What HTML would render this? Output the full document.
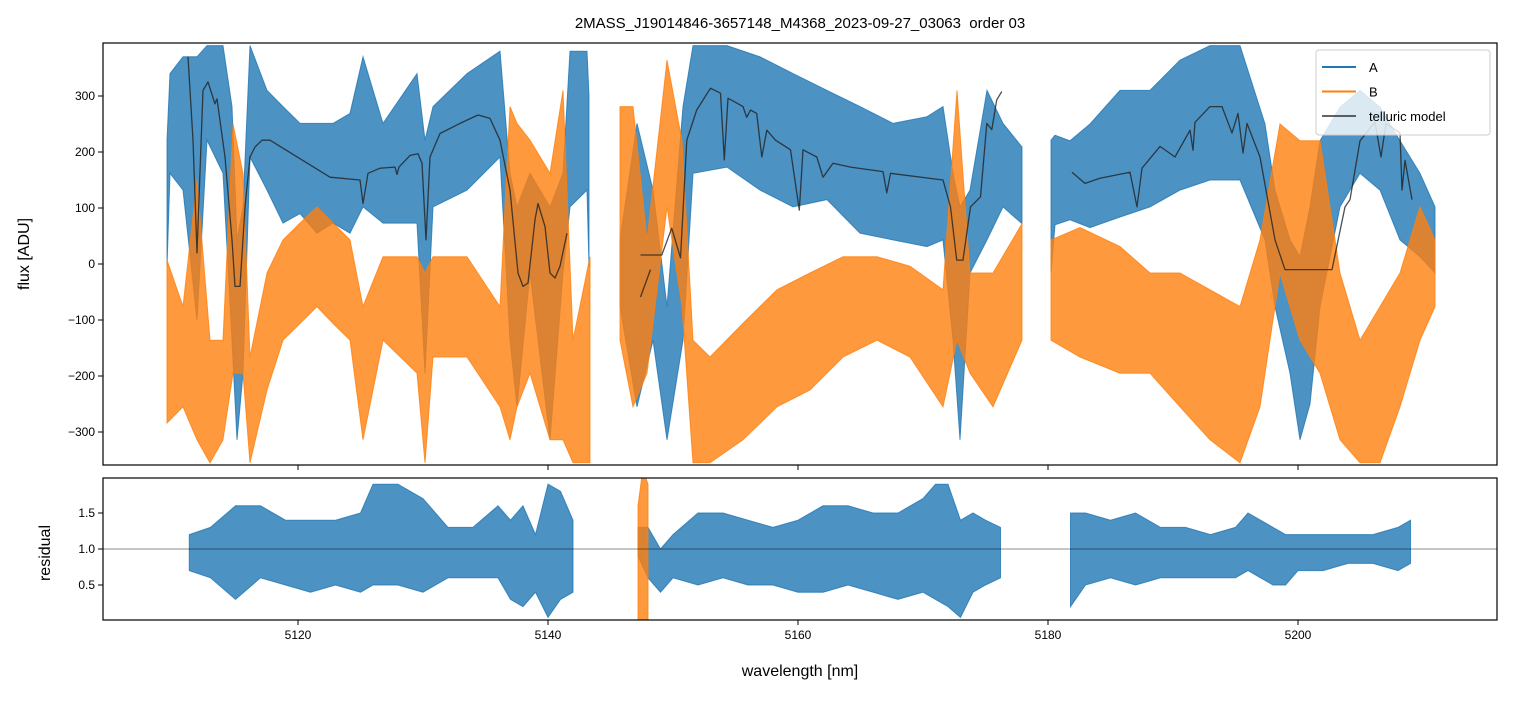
<!DOCTYPE html>
<html><head><meta charset="utf-8"><style>
html,body{margin:0;padding:0;background:#fff;}
svg text{font-family:"Liberation Sans","DejaVu Sans",sans-serif;fill:#000;}
</style></head><body>
<svg id="chart" width="1513" height="696" xmlns="http://www.w3.org/2000/svg">
<text x="800" y="28" font-size="15" text-anchor="middle" style="white-space:pre">2MASS_J19014846-3657148_M4368_2023-09-27_03063  order 03</text>
<g id="topPanel"></g>
<g id="botPanel"></g>
</svg>
<script>
// ---- data (wavelength nm, band lower/upper) ; null = gap ----
const aWl=[5109.52,5109.76,5110.8,5111.92,5112.72,5114,5114.72,5115.12,5115.6,5116.16,5117.52,5118.8,5120.16,5121.52,5122.8,5124.16,5125.2,5126.8,5129.52,5130.16,5130.8,5133.52,5136.16,5136.96,5137.52,5138.56,5140.16,5141.2,5141.76,5143.12,5143.28,null,5145.76,5147.12,5148.4,5149.52,5150.8,5151.6,5154.32,5156.96,5159.6,5162.32,5164.96,5167.6,5170.32,5171.6,5172.4,5172.96,5173.76,5175.12,5176.4,5177.92,null,5180.24,5180.56,5181.76,5183.36,5185.76,5188.16,5190.56,5192.96,5195.36,5197.36,5198.16,5199.36,5200.16,5200.96,5201.76,5203.36,5204.96,5206.56,5208.16,5209.76,5210.96];
const aLo=[-5,162,132,-100,221,162,-136,-314,-195,191,132,73,90,55,73,55,102,73,73,-195,102,132,191,-136,-255,-16,-314,-16,102,132,-4,null,-76,-255,-136,-314,-136,162,173,132,102,115,55,43,31,43,-136,-314,-16,43,102,72,null,-16,70,79,65,84,102,132,150,150,43,-76,-195,-314,-250,-76,102,162,132,43,13,-16];
const aHi=[221,340,370,370,390,390,281,43,102,390,310,281,251,251,251,269,370,251,340,221,281,340,380,162,102,162,102,162,380,380,300,null,43,251,132,-76,281,390,390,370,340,310,281,251,263,281,162,102,132,310,251,209,null,221,230,220,250,310,310,364,390,390,250,132,43,13,102,220,280,310,280,220,162,102];
const bWl=[5109.52,5110.8,5111.92,5112.96,5114,5114.8,5115.6,5116.16,5117.52,5118.8,5120.16,5121.52,5122.8,5124.16,5125.2,5126.8,5129.52,5130.16,5130.8,5133.52,5136.16,5136.96,5137.52,5138.56,5140.16,5141.2,5142,5143.36,null,5145.76,5146.8,5147.92,5149.52,5150.72,5151.6,5152.96,5155.6,5158.32,5160.96,5163.6,5166.32,5168.96,5171.6,5172.72,5173.76,5175.6,5177.92,null,5180.24,5182.56,5185.76,5188.16,5190.56,5192.96,5195.36,5196.96,5198.56,5200.16,5201.76,5203.36,5204.96,5206.56,5208.16,5209.76,5210.96];
const bLo=[-284,-255,-314,-355,-314,-195,-195,-355,-225,-136,-106,-76,-106,-136,-314,-136,-195,-355,-166,-166,-255,-314,-255,-195,-314,-314,-355,-355,null,-136,-255,-195,102,-76,-355,-355,-314,-255,-225,-166,-136,-166,-255,-136,-195,-255,-136,null,-136,-166,-195,-195,-255,-314,-355,-255,-16,-136,-195,-314,-355,-355,-255,-136,-76];
const bHi=[7,-76,150,-136,-136,250,162,-166,-16,43,73,102,73,43,-76,13,13,-16,13,13,-76,281,251,221,162,310,-136,13,null,281,281,43,364,220,-136,-166,-106,-46,-16,13,13,-4,-46,310,-16,-16,72,null,43,65,31,-16,-16,-46,-76,43,250,220,220,-16,-136,-76,-16,102,43];
const tWl=[5111.2,5111.6,5111.92,5112.4,5112.8,5113.2,5113.36,5113.52,5114.16,5114.72,5114.96,5115.36,5115.76,5116.16,5116.56,5117.12,5117.76,5122.56,5124.96,5125.2,5125.6,5126.56,5127.76,5127.92,5128.08,5128.96,5129.6,5129.92,5130.24,5130.56,5131.36,5132.96,5134.4,5135.36,5136.16,5136.96,5137.6,5138,5138.4,5138.96,5139.2,5139.76,5140.16,5140.56,5140.96,5141.52,null,5147.4,5148.2,null,5147.4,5149.1,5149.9,5150.6,5151.1,5151.9,5153,5153.8,5154.1,5154.4,5155.6,5155.9,5156.2,5156.7,5157.1,5157.5,5158.2,5159.4,5160.1,5160.4,5161.5,5162,5162.8,5164.2,5166.8,5167.1,5167.4,5171.6,5172.2,5172.7,5173.2,5173.8,5174.6,5175.1,5175.5,5175.9,5176.3,null,5181.92,5182.96,5184.16,5186.56,5187.12,5187.52,5188.96,5190.16,5191.36,5191.6,5191.76,5192.96,5193.92,5194.72,5195.2,5195.6,5195.92,5196.96,5198.16,5198.96,5202.72,5203.76,5204.16,5204.96,5206.16,5206.64,5207.04,5208.16,5208.32,5208.56,5209.12];
const tVal=[370,221,20,310,325,297,286,295,191,43,-40,-40,102,191,209,221,221,155,150,108,162,171,173,160,173,194,197,180,43,191,233,251,266,260,221,132,-16,-40,-34,79,108,67,-16,-25,-4,55,null,-59,-10,null,16,16,64,11,221,275,314,305,186,296,281,262,275,269,191,239,221,204,96,204,191,155,180,173,165,127,162,150,102,7,7,102,120,251,240,293,308,null,164,144,153,164,102,171,210,191,239,203,253,281,281,234,269,198,251,191,43,-10,-10,102,115,220,253,191,251,234,132,185,115];
const rAWl=[5111.3,5113,5115,5117,5119,5121,5123,5125,5126,5128,5130,5132,5134,5136,5137,5138,5139,5140,5141,5142,null,5147.2,5148,5149,5150,5152,5154,5156,5158,5160,5162,5164,5166,5168,5170,5171,5172,5173,5174,5175,5176.2,null,5181.8,5183,5185,5187,5189,5191,5193,5195,5196,5197,5198,5199,5200,5202,5204,5206,5208,5209];
const rALo=[0.7,0.6,0.3,0.6,0.5,0.4,0.5,0.4,0.5,0.5,0.4,0.6,0.6,0.6,0.3,0.2,0.4,0.05,0.3,0.4,null,0.9,0.6,0.4,0.6,0.5,0.6,0.5,0.5,0.4,0.4,0.5,0.4,0.3,0.4,0.3,0.2,0.05,0.4,0.5,0.6,null,0.2,0.5,0.6,0.5,0.6,0.6,0.6,0.6,0.7,0.6,0.5,0.5,0.7,0.7,0.8,0.8,0.7,0.8];
const rAHi=[1.2,1.3,1.6,1.6,1.4,1.4,1.4,1.5,1.9,1.9,1.7,1.3,1.3,1.6,1.4,1.6,1.2,1.9,1.8,1.4,null,1.3,1.3,1.0,1.2,1.5,1.5,1.4,1.3,1.4,1.6,1.6,1.5,1.5,1.7,1.9,1.9,1.4,1.5,1.4,1.3,null,1.5,1.5,1.4,1.5,1.3,1.3,1.2,1.3,1.5,1.4,1.3,1.2,1.2,1.2,1.2,1.2,1.3,1.4];
const rBWl=[5147.2,5147.5,5147.8,5148];
const rBLo=[0.0,0.0,0.0,0.0];
const rBHi=[1.6,2.0,2.0,1.9];
const xTicks=[5120,5140,5160,5180,5200];
const yTicksTop=[-300,-200,-100,0,100,200,300];
const yTicksBot=[0.5,1.0,1.5];

const NS="http://www.w3.org/2000/svg";
const L=103,R=1497,T1=43,B1=465,T2=478,B2=620;
const xMin=5104.4,xMax=5215.92;
const X=v=>L+(v-xMin)/(xMax-xMin)*(R-L);
const Y1=v=>264-v*0.56;
const Y2=v=>549-(v-1)*72;
function mk(tag,attrs,parent){const e=document.createElementNS(NS,tag);for(const k in attrs)e.setAttribute(k,attrs[k]);parent.appendChild(e);return e;}
const svgEl=document.getElementById('chart');
const defs=mk('defs',{},svgEl);
const c1=mk('clipPath',{id:'c1'},defs);mk('rect',{x:L,y:T1,width:R-L,height:B1-T1},c1);
const c2=mk('clipPath',{id:'c2'},defs);mk('rect',{x:L,y:T2,width:R-L,height:B2-T2},c2);
const topG=document.getElementById('topPanel'),botG=document.getElementById('botPanel');
const g1=mk('g',{'clip-path':'url(#c1)'},topG);
const g2=mk('g',{'clip-path':'url(#c2)'},botG);
function band(wl,lo,hi,Y,color,parent,name){
  let seg=[];const segs=[];
  for(let i=0;i<=wl.length;i++){if(i===wl.length||wl[i]===null){if(seg.length)segs.push(seg);seg=[];}else seg.push(i);}
  segs.forEach(s=>{
    let d='M'+s.map(i=>X(wl[i]).toFixed(1)+','+Y(hi[i]).toFixed(1)).join('L');
    d+='L'+s.slice().reverse().map(i=>X(wl[i]).toFixed(1)+','+Y(lo[i]).toFixed(1)).join('L')+'Z';
    const p=mk('path',{d:d,fill:color,'fill-opacity':0.8,stroke:color,'stroke-opacity':0.8,'stroke-width':1},parent);
    
    
  });
}
function line(wl,v,Y,color,w,op,parent,name){
  let d='',pen=false;
  for(let i=0;i<wl.length;i++){if(wl[i]===null){pen=false;continue;}d+=(pen?'L':'M')+X(wl[i]).toFixed(1)+','+Y(v[i]).toFixed(1);pen=true;}
  const p=mk('path',{d:d,fill:'none',stroke:color,'stroke-width':w,'stroke-opacity':op,'stroke-linejoin':'round'},parent);
  
  
}
band(aWl,aLo,aHi,Y1,'#1f77b4',g1,'series-a-band');
band(bWl,bLo,bHi,Y1,'#ff7f0e',g1,'series-b-band');
line(tWl,tVal,Y1,'#222',1.3,0.8,g1,'telluric-model-line');
band(rAWl,rALo,rAHi,Y2,'#1f77b4',g2,'residual-a-band');
band(rBWl,rBLo,rBHi,Y2,'#ff7f0e',g2,'residual-b-band');
const ref=mk('line',{x1:L,x2:R,y1:Y2(1),y2:Y2(1),stroke:'#000','stroke-width':0.8,'stroke-opacity':0.6},g2);


[[T1,B1,topG],[T2,B2,botG]].forEach(([t,b,p])=>{const r=mk('rect',{x:L,y:t,width:R-L,height:b-t,fill:'none',stroke:'#000','stroke-width':1.2},p);});
xTicks.forEach(v=>{
  mk('line',{x1:X(v),x2:X(v),y1:B1,y2:B1+5,stroke:'#000'},topG);
  mk('line',{x1:X(v),x2:X(v),y1:B2,y2:B2+5,stroke:'#000'},botG);
  const t=mk('text',{x:X(v),y:B2+19,'font-size':12,'text-anchor':'middle'},botG);t.textContent=v;
  
  
});
yTicksTop.forEach(v=>{
  mk('line',{x1:L-5,x2:L,y1:Y1(v),y2:Y1(v),stroke:'#000'},topG);
  const t=mk('text',{x:L-8,y:Y1(v)+4,'font-size':12,'text-anchor':'end'},topG);t.textContent=v<0?'\u2212'+(-v):v;
  
  
});
yTicksBot.forEach(v=>{
  mk('line',{x1:L-5,x2:L,y1:Y2(v),y2:Y2(v),stroke:'#000'},botG);
  const t=mk('text',{x:L-8,y:Y2(v)+4,'font-size':12,'text-anchor':'end'},botG);t.textContent=v.toFixed(1);
  
  
});
let tt=mk('text',{x:800,y:676,'font-size':16,'text-anchor':'middle'},svgEl);tt.textContent='wavelength [nm]';


tt=mk('text',{x:0,y:0,'font-size':16,'text-anchor':'middle',transform:'translate(29,254) rotate(-90)'},svgEl);tt.textContent='flux [ADU]';


tt=mk('text',{x:0,y:0,'font-size':16,'text-anchor':'middle',transform:'translate(50,553) rotate(-90)'},svgEl);tt.textContent='residual';


const lg=mk('g',{},svgEl);


mk('rect',{x:1316,y:50,width:174,height:85,rx:3,fill:'#fff','fill-opacity':0.8,stroke:'#ccc'},lg);
[['A','#1f77b4',1],['B','#ff7f0e',1],['telluric model','#222',0.7]].forEach((e,i)=>{
  const y=67+i*24.5;
  const ln=mk('line',{x1:1322,x2:1356,y1:y,y2:y,stroke:e[1],'stroke-width':2,'stroke-opacity':e[2]},lg);
  
  
  const tx=mk('text',{x:1369,y:y+5,'font-size':13},lg);tx.textContent=e[0];
  
  
});
</script>
</body></html>
